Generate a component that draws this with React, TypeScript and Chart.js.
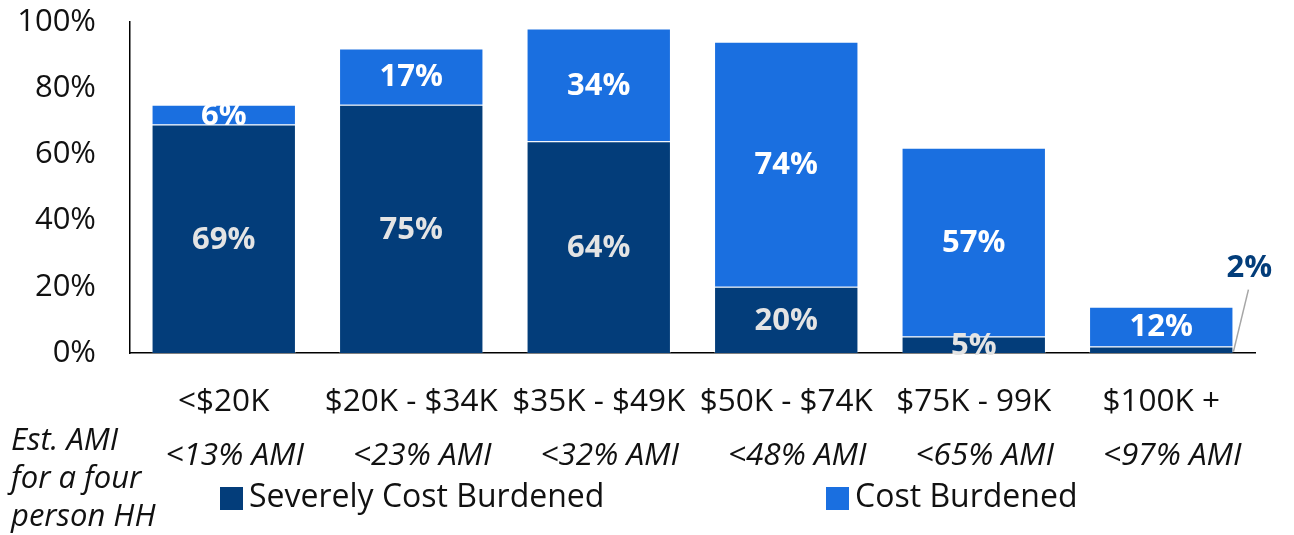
import React, { useEffect, useRef } from "react";
import { Chart, registerables } from "chart.js";

Chart.register(...registerables);

const categories = ["<$20K", "$20K - $34K", "$35K - $49K", "$50K - $74K", "$75K - 99K", "$100K +"];
const amiLabels = ["<13% AMI", "<23% AMI", "<32% AMI", "<48% AMI", "<65% AMI", "<97% AMI"];
const severelyCostBurdened = [69, 75, 64, 20, 5, 2];
const costBurdened = [6, 17, 34, 74, 57, 12];
const seriesNames = ["Severely Cost Burdened", "Cost Burdened"];
const sideNote = ["Est. AMI", "for a four", "person HH"];

const DARK = "#033d7a";
const BLUE = "#1a6fe0";
const FONT = '"Open Sans", sans-serif';

const overlayPlugin = {
  id: "overlay",
  afterDatasetsDraw(chart: any) {
    const ctx = chart.ctx;
    ctx.save();
    ctx.textAlign = "center";
    ctx.textBaseline = "middle";
    chart.data.datasets.forEach((ds: any, di: number) => {
      const meta = chart.getDatasetMeta(di);
      meta.data.forEach((el: any, i: number) => {
        const v = ds.data[i];
        const midY = (el.y + el.base) / 2;
        if (di === 0 && v < 3) {
          const x0 = el.x + el.width / 2;
          ctx.strokeStyle = "#a6a6a6";
          ctx.lineWidth = 1.5;
          ctx.beginPath();
          ctx.moveTo(x0, midY + 2);
          ctx.lineTo(x0 + 15, midY - 60);
          ctx.stroke();
          ctx.fillStyle = DARK;
          ctx.font = `bold 31px ${FONT}`;
          ctx.fillText(v + "%", x0 + 16, midY - 82);
        } else {
          ctx.fillStyle = di === 0 ? "#e4e4e4" : "#ffffff";
          ctx.font = `bold 31px ${FONT}`;
          ctx.fillText(v + "%", el.x, midY + 1);
        }
      });
    });
    ctx.restore();
  },
  afterDraw(chart: any) {
    const ctx = chart.ctx;
    const area = chart.chartArea;
    const xScale = chart.scales.x;
    ctx.save();
    ctx.fillStyle = "#111111";
    ctx.textBaseline = "middle";
    ctx.textAlign = "center";
    categories.forEach((c, i) => {
      const x = xScale.getPixelForValue(i);
      ctx.font = `31.5px ${FONT}`;
      ctx.fillText(c, x, area.bottom + 49);
      ctx.font = `italic 31.5px ${FONT}`;
      ctx.fillText(amiLabels[i], x + 11, area.bottom + 103);
    });
    ctx.textAlign = "left";
    ctx.font = `italic 31px ${FONT}`;
    sideNote.forEach((t, i) => {
      ctx.fillText(t, 11, area.bottom + 88 + i * 38);
    });
    // legend
    const colors = [DARK, BLUE];
    const boxX = [area.left + 90, area.left + 696];
    const ly = area.bottom + 145;
    ctx.font = `32px ${FONT}`;
    seriesNames.forEach((n, i) => {
      ctx.fillStyle = colors[i];
      ctx.fillRect(boxX[i], ly - 11, 23, 23);
      ctx.fillStyle = "#111111";
      ctx.fillText(n, boxX[i] + 29, ly);
    });
    ctx.restore();
  },
};

export default function App() {
  const ref = useRef<HTMLCanvasElement>(null);
  useEffect(() => {
    if (!ref.current) return;
    const chart = new Chart(ref.current, {
      type: "bar",
      data: {
        labels: categories,
        datasets: [
          {
            label: seriesNames[0],
            data: severelyCostBurdened,
            backgroundColor: DARK,
            borderColor: "rgba(255,255,255,0.3)",
            borderWidth: 1,
            categoryPercentage: 0.77,
            barPercentage: 1,
          },
          {
            label: seriesNames[1],
            data: costBurdened,
            backgroundColor: BLUE,
            borderColor: "rgba(255,255,255,0.3)",
            borderWidth: 1,
            categoryPercentage: 0.77,
            barPercentage: 1,
          },
        ],
      },
      options: {
        responsive: false,
        animation: false,
        devicePixelRatio: 1,
        layout: { padding: { top: 22, right: 39, bottom: 182, left: 0 } },
        plugins: { legend: { display: false }, tooltip: { enabled: false } },
        scales: {
          x: {
            stacked: true,
            grid: { display: false },
            border: { display: true, color: "#000000", width: 1.5 },
            ticks: { display: false },
            afterFit: (s: any) => { s.height = 0; s.paddingLeft = 0; s.paddingRight = 0; },
          },
          y: {
            stacked: true,
            min: 0,
            max: 100,
            grid: { display: false },
            border: { display: true, color: "#000000", width: 1.5 },
            ticks: {
              stepSize: 20,
              padding: 26,
              color: "#111111",
              font: { family: FONT, size: 31 },
              callback: (v: any) => v + "%",
            },
            afterFit: (s: any) => { s.width = 130; s.paddingTop = 0; s.paddingBottom = 0; },
          },
        },
      },
      plugins: [overlayPlugin],
    });
    return () => chart.destroy();
  }, []);
  return (
    <canvas
      ref={ref}
      width={1294}
      height={535}
      style={{ position: "fixed", left: 0, top: 0, display: "block", background: "#fff" }}
    />
  );
}
